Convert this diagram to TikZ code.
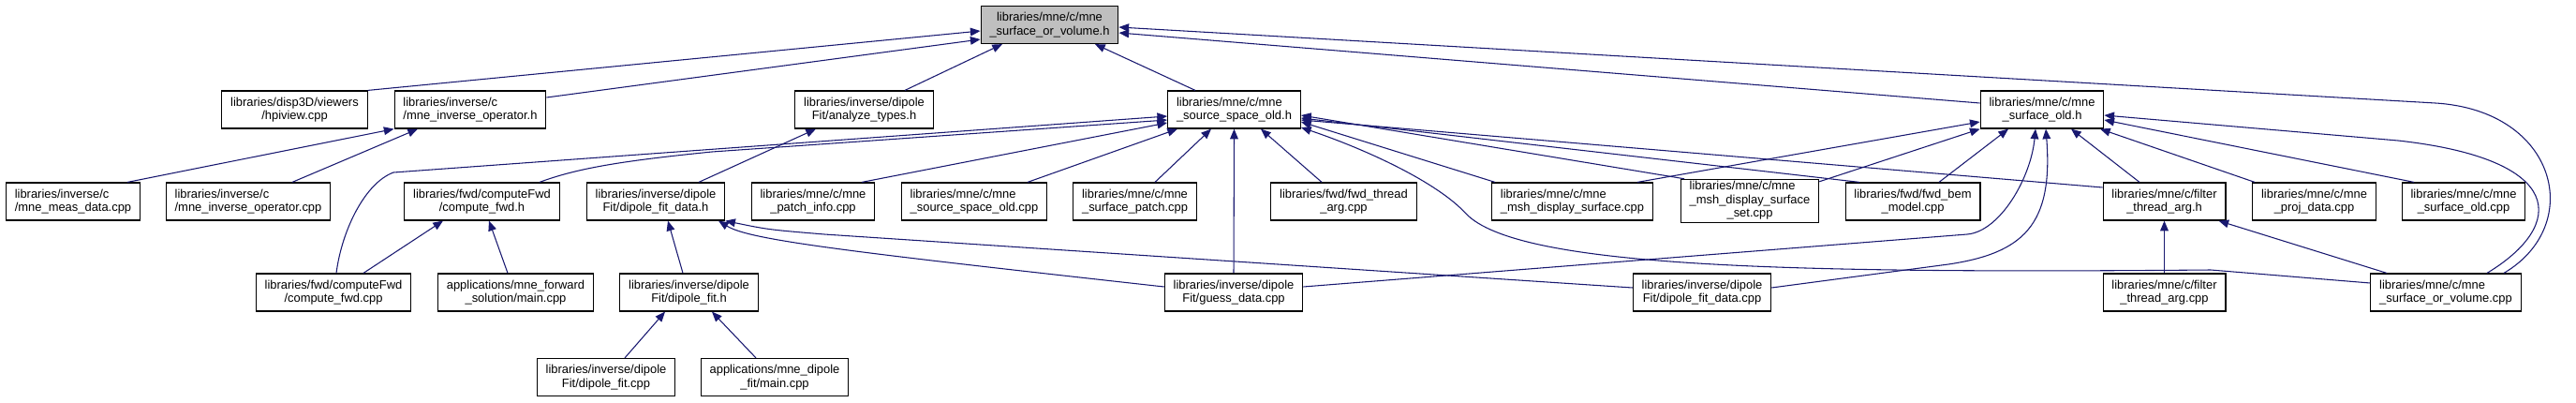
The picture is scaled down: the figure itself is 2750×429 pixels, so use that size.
\documentclass[tikz,border=0pt]{standalone}
\usepackage{fontspec}
\setmainfont{Liberation Sans}
\usetikzlibrary{arrows.meta}
\definecolor{edgeblue}{RGB}{25,25,112}
\definecolor{rootgray}{RGB}{191,191,191}
\tikzset{
  file/.style={draw=black,line width=0.9pt,fill=white,inner xsep=7pt,inner ysep=1pt,minimum height=30pt,align=center,font=\fontsize{9.7}{10.9}\selectfont},
  fileL/.style={file,align=left},
  rootfile/.style={file,fill=rootgray},
  dep/.style={-{Triangle[length=8pt,width=6.5pt]},draw=edgeblue,line width=0.8pt}
}
\begin{document}
\begin{tikzpicture}[x=0.75pt,y=-0.75pt]
  \useasboundingbox (0,0) rectangle (2750,429);

  \node[rootfile] (root) at (1120.5,26.5) {libraries/mne/c/mne\\\_surface\_or\_volume.h};

  \node[file]  (hpi)  at (314.5,117) {libraries/disp3D/viewers\\/hpiview.cpp};
  \node[fileL] (invh) at (502,117)   {libraries/inverse/c\\/mne\_inverse\_operator.h};
  \node[file]  (anat) at (922.5,117) {libraries/inverse/dipole\\Fit/analyze\_types.h};
  \node[fileL] (ssh)  at (1317.5,117) {libraries/mne/c/mne\\\_source\_space\_old.h};
  \node[file]  (soh)  at (2180,117)  {libraries/mne/c/mne\\\_surface\_old.h};

  \node[fileL] (meas)   at (78,215)     {libraries/inverse/c\\/mne\_meas\_data.cpp};
  \node[fileL] (invcpp) at (265,215)    {libraries/inverse/c\\/mne\_inverse\_operator.cpp};
  \node[file]  (cfh)    at (514.5,215)  {libraries/fwd/computeFwd\\/compute\_fwd.h};
  \node[file]  (dfdh)   at (700,215)    {libraries/inverse/dipole\\Fit/dipole\_fit\_data.h};
  \node[file]  (patch)  at (868,215)    {libraries/mne/c/mne\\\_patch\_info.cpp};
  \node[fileL] (sscpp)  at (1040,215)   {libraries/mne/c/mne\\\_source\_space\_old.cpp};
  \node[file]  (spatch) at (1211.5,215) {libraries/mne/c/mne\\\_surface\_patch.cpp};
  \node[file]  (fthr)   at (1434.5,215) {libraries/fwd/fwd\_thread\\\_arg.cpp};
  \node[fileL] (msh)    at (1678.5,215) {libraries/mne/c/mne\\\_msh\_display\_surface.cpp};
  \node[file]  (mshset) at (1868,214.5) {\begin{tabular}{@{}l@{}}libraries/mne/c/mne\\\_msh\_display\_surface\\\multicolumn{1}{@{}c@{}}{\_set.cpp}\end{tabular}};
  \node[file]  (bem)    at (2042,215)   {libraries/fwd/fwd\_bem\\\_model.cpp};
  \node[file]  (filth)  at (2310.5,215) {libraries/mne/c/filter\\\_thread\_arg.h};
  \node[file]  (proj)   at (2470.5,215) {libraries/mne/c/mne\\\_proj\_data.cpp};
  \node[file]  (socpp)  at (2630,215)   {libraries/mne/c/mne\\\_surface\_old.cpp};

  \node[file]  (cfcpp)   at (356,312)    {libraries/fwd/computeFwd\\/compute\_fwd.cpp};
  \node[file]  (fwdmain) at (550.5,312)  {applications/mne\_forward\\\_solution/main.cpp};
  \node[file]  (dfith)   at (735.5,312)  {libraries/inverse/dipole\\Fit/dipole\_fit.h};
  \node[file]  (guess)   at (1317,312)   {libraries/inverse/dipole\\Fit/guess\_data.cpp};
  \node[file]  (dfdcpp)  at (1817,312)   {libraries/inverse/dipole\\Fit/dipole\_fit\_data.cpp};
  \node[file]  (filtcpp) at (2310.5,312) {libraries/mne/c/filter\\\_thread\_arg.cpp};
  \node[fileL] (sovcpp)  at (2611,312)   {libraries/mne/c/mne\\\_surface\_or\_volume.cpp};

  \node[file] (dfitcpp)  at (647,402.5) {libraries/inverse/dipole\\Fit/dipole\_fit.cpp};
  \node[file] (dfitmain) at (827,402.5) {applications/mne\_dipole\\\_fit/main.cpp};

  % includes of the root header
  \draw[dep] (hpi.north east) -- ([shift={(0,6.5)}]root.west);
  \draw[dep] ([shift={(0,-13)}]invh.east) -- ([shift={(0,15.5)}]root.west);
  \draw[dep] ([shift={(43.5,0)}]anat.north) -- ([shift={(-50.5,0)}]root.south);
  \draw[dep] ([shift={(-41.5,0)}]ssh.north) -- ([shift={(48.5,0)}]root.south);
  \draw[dep] ([shift={(0,-7)}]soh.west) -- ([shift={(0,8.5)}]root.east);
  \draw[dep] ([shift={(62,0)}]sovcpp.north) .. controls (2760,240) and (2730,118) .. (2600,110) -- ([shift={(0,2.5)}]root.east);

  \draw[dep] ([shift={(58,0)}]meas.north) -- (invh.south west);
  \draw[dep] ([shift={(47,0)}]invcpp.north) -- ([shift={(-56,0)}]invh.south);
  \draw[dep] ([shift={(46,0)}]dfdh.north) -- ([shift={(-51.5,0)}]anat.south);

  % source space header
  \draw[dep] ([shift={(3,0)}]cfcpp.north) .. controls (365,245) and (390,195) .. (420,184) -- ([shift={(0,7)}]ssh.west);
  \draw[dep] ([shift={(61.5,0)}]cfh.north) .. controls (615,180) and (660,172) .. (760,162) -- ([shift={(0,11)}]ssh.west);
  \draw[dep] ([shift={(52,0)}]patch.north) -- ([shift={(0,14)}]ssh.west);
  \draw[dep] ([shift={(57,0)}]sscpp.north) -- ([shift={(-60.5,0)}]ssh.south);
  \draw[dep] ([shift={(21.5,0)}]spatch.north) -- ([shift={(-24.5,0)}]ssh.south);
  \draw[dep] (guess.north) -- (ssh.south);
  \draw[dep] ([shift={(-23.5,0)}]fthr.north) -- ([shift={(28.5,0)}]ssh.south);
  \draw[dep] ([shift={(-82.5,0)}]msh.north) -- ([shift={(0,13)}]ssh.east);
  \draw[dep] ([shift={(-70,0)}]mshset.north) -- ([shift={(0,6)}]ssh.east);
  \draw[dep] ([shift={(-57,0)}]bem.north) -- ([shift={(0,9)}]ssh.east);
  \draw[dep] ([shift={(0,-15)}]filth.west) -- ([shift={(0,11)}]ssh.east);
  \draw[dep] ([shift={(0,-10)}]sovcpp.west) -- (2360,288) .. controls (1900,292) and (1620,285) .. (1565,228) .. controls (1535,195) and (1460,160) .. ([shift={(0,19)}]ssh.east);

  % surface header
  \draw[dep] ([shift={(69.5,0)}]msh.north) -- ([shift={(0,13)}]soh.west);
  \draw[dep] ([shift={(0,3)}]mshset.north east) -- (soh.south west);
  \draw[dep] ([shift={(28,0)}]bem.north) -- ([shift={(-36,0)}]soh.south);
  \draw[dep] ([shift={(0,-6)}]guess.east) -- (2100,250) .. controls (2135,247) and (2168,190) .. ([shift={(-7,0)}]soh.south);
  \draw[dep] ([shift={(0,-5)}]dfdcpp.east) -- (2080,282) .. controls (2160,270) and (2192,240) .. ([shift={(4,0)}]soh.south);
  \draw[dep] ([shift={(-26.5,0)}]filth.north) -- ([shift={(31,0)}]soh.south);
  \draw[dep] ([shift={(-63.5,0)}]proj.north) -- ([shift={(62,0)}]soh.south);
  \draw[dep] ([shift={(-53,0)}]socpp.north) -- ([shift={(0,11)}]soh.east);
  \draw[dep] ([shift={(44,0)}]sovcpp.north) .. controls (2740,240) and (2740,170) .. (2560,150) -- ([shift={(0,6)}]soh.east);

  \draw[dep] ([shift={(32,0)}]cfcpp.north) -- ([shift={(-41.5,0)}]cfh.south);
  \draw[dep] ([shift={(-8.5,0)}]fwdmain.north) -- ([shift={(7.5,0)}]cfh.south);
  \draw[dep] ([shift={(-6.5,0)}]dfith.north) -- ([shift={(13,0)}]dfdh.south);
  \draw[dep] ([shift={(0,-6)}]guess.west) .. controls (900,268) and (800,256) .. ([shift={(67,0)}]dfdh.south);
  \draw[dep] ([shift={(0,-5)}]dfdcpp.west) -- (880,250) .. controls (820,245) .. (dfdh.south east);
  \draw[dep] ([shift={(20,0)}]dfitcpp.north) -- ([shift={(-25.5,0)}]dfith.south);
  \draw[dep] ([shift={(-20,0)}]dfitmain.north) -- ([shift={(24.5,0)}]dfith.south);
  \draw[dep] (filtcpp.north) -- (filth.south);
  \draw[dep] ([shift={(-63,0)}]sovcpp.north) -- ([shift={(-8,0)}]filth.south east);
\end{tikzpicture}
\end{document}
